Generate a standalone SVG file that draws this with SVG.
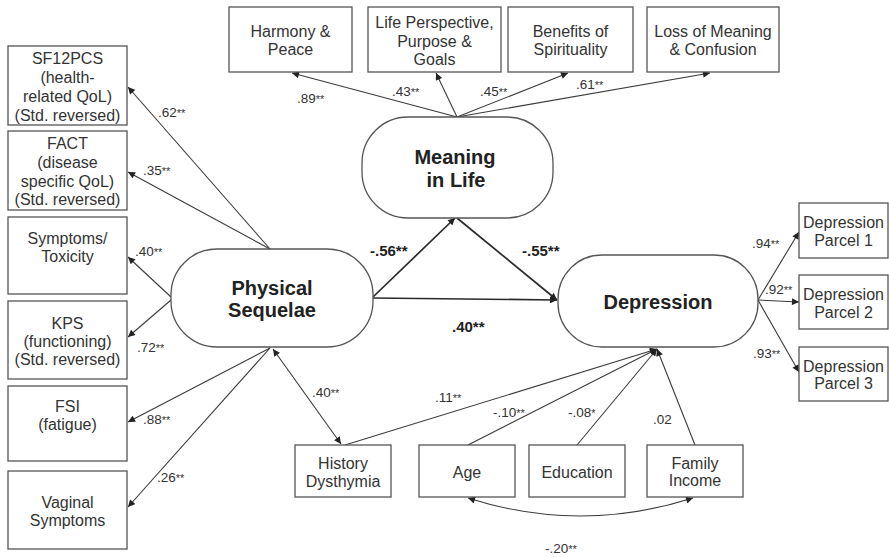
<svg xmlns="http://www.w3.org/2000/svg" width="889" height="557" viewBox="0 0 889 557">
<style>
  .box{fill:#fff;stroke:#555;stroke-width:1.3}
  .lat{fill:#fff;stroke:#555;stroke-width:1.3}
  .t{font-family:"Liberation Sans",Arial,sans-serif;font-size:16px;fill:#333;text-anchor:middle}
  .b{font-family:"Liberation Sans",Arial,sans-serif;font-size:20px;font-weight:bold;fill:#222;text-anchor:middle}
  .n{font-family:"Liberation Sans",Arial,sans-serif;font-size:13.5px;fill:#333}
  .nb{font-family:"Liberation Sans",Arial,sans-serif;font-size:15px;font-weight:bold;fill:#222}
  .s{font-size:11px}
  .c{fill:none;stroke:#3a3a3a;stroke-width:1.1}
  .cb{fill:none;stroke:#2a2a2a;stroke-width:1.7}
</style>
<defs>
  <marker id="ah" viewBox="0 0 10 10" refX="10" refY="5" markerWidth="8" markerHeight="7" markerUnits="userSpaceOnUse" orient="auto-start-reverse">
    <path d="M0,0 L10,5 L0,10 z" fill="#222"/>
  </marker>
</defs>

<g id="connectors">
  <!-- Meaning in Life to indicators -->
  <line class="c" x1="457" y1="117" x2="292" y2="73" marker-end="url(#ah)"/>
  <line class="c" x1="457" y1="117" x2="436" y2="73" marker-end="url(#ah)"/>
  <line class="c" x1="457" y1="117" x2="568" y2="73" marker-end="url(#ah)"/>
  <line class="c" x1="457" y1="117" x2="710" y2="73" marker-end="url(#ah)"/>
  <!-- Physical Sequelae to indicators -->
  <line class="c" x1="270" y1="249" x2="128" y2="87" marker-end="url(#ah)"/>
  <line class="c" x1="270" y1="249" x2="128" y2="172" marker-end="url(#ah)"/>
  <line class="c" x1="171" y1="297" x2="128" y2="257" marker-end="url(#ah)"/>
  <line class="c" x1="171" y1="300" x2="128" y2="337" marker-end="url(#ah)"/>
  <line class="c" x1="270" y1="348" x2="128" y2="422" marker-end="url(#ah)"/>
  <line class="c" x1="270" y1="348" x2="128" y2="507" marker-end="url(#ah)"/>
  <!-- Physical <-> History Dysthymia -->
  <line class="c" x1="273" y1="349" x2="341" y2="444" marker-start="url(#ah)" marker-end="url(#ah)"/>
  <!-- structural paths -->
  <line class="cb" x1="373" y1="297" x2="455" y2="218" marker-end="url(#ah)"/>
  <line class="cb" x1="457" y1="218" x2="557" y2="300" marker-end="url(#ah)"/>
  <line class="cb" x1="373" y1="298" x2="557" y2="300" marker-end="url(#ah)"/>
  <!-- Depression to parcels -->
  <line class="c" x1="758" y1="300" x2="799" y2="232" marker-end="url(#ah)"/>
  <line class="c" x1="758" y1="300" x2="799" y2="302" marker-end="url(#ah)"/>
  <line class="c" x1="758" y1="300" x2="799" y2="372" marker-end="url(#ah)"/>
  <!-- covariates to Depression -->
  <line class="c" x1="345" y1="445" x2="657" y2="349" marker-end="url(#ah)"/>
  <line class="c" x1="468" y1="445" x2="657" y2="349" marker-end="url(#ah)"/>
  <line class="c" x1="577" y1="445" x2="657" y2="349" marker-end="url(#ah)"/>
  <line class="c" x1="695" y1="445" x2="657" y2="349" marker-end="url(#ah)"/>
  <!-- Age <-> Family Income -->
  <path class="c" d="M468,498 Q580,534 693,498" marker-start="url(#ah)" marker-end="url(#ah)"/>
</g>

<g id="labels">
  <text class="n" x="297" y="103">.89<tspan class="s">**</tspan></text>
  <text class="n" x="392" y="96">.43<tspan class="s">**</tspan></text>
  <text class="n" x="480" y="96">.45<tspan class="s">**</tspan></text>
  <text class="n" x="576" y="89">.61<tspan class="s">**</tspan></text>
  <text class="n" x="158" y="117">.62<tspan class="s">**</tspan></text>
  <text class="n" x="143" y="175">.35<tspan class="s">**</tspan></text>
  <text class="n" x="135" y="256">.40<tspan class="s">**</tspan></text>
  <text class="n" x="137" y="352">.72<tspan class="s">**</tspan></text>
  <text class="n" x="143" y="424">.88<tspan class="s">**</tspan></text>
  <text class="n" x="157" y="482">.26<tspan class="s">**</tspan></text>
  <text class="n" x="312" y="397">.40<tspan class="s">**</tspan></text>
  <text class="nb" x="370" y="256">-.56**</text>
  <text class="nb" x="522" y="256">-.55**</text>
  <text class="nb" x="452" y="332">.40**</text>
  <text class="n" x="752" y="248">.94<tspan class="s">**</tspan></text>
  <text class="n" x="765" y="294">.92<tspan class="s">**</tspan></text>
  <text class="n" x="753" y="358">.93<tspan class="s">**</tspan></text>
  <text class="n" x="435" y="402">.11<tspan class="s">**</tspan></text>
  <text class="n" x="493" y="417">-.10<tspan class="s">**</tspan></text>
  <text class="n" x="568" y="417">-.08<tspan class="s">*</tspan></text>
  <text class="n" x="653" y="424">.02</text>
  <text class="n" x="545" y="553">-.20<tspan class="s">**</tspan></text>
</g>

<g id="harmony"><rect class="box" x="229" y="7" width="123" height="65"/>
  <text class="t" x="290.5" y="37">Harmony &amp;</text><text class="t" x="290.5" y="55">Peace</text></g>
<g id="life-perspective"><rect class="box" x="368" y="7" width="133" height="65"/>
  <text class="t" x="434.5" y="28">Life Perspective,</text><text class="t" x="434.5" y="47">Purpose &amp;</text><text class="t" x="434.5" y="65">Goals</text></g>
<g id="benefits"><rect class="box" x="508" y="7" width="125" height="65"/>
  <text class="t" x="570.5" y="37">Benefits of</text><text class="t" x="570.5" y="55">Spirituality</text></g>
<g id="loss"><rect class="box" x="647" y="7" width="132" height="65"/>
  <text class="t" x="713" y="37">Loss of Meaning</text><text class="t" x="713" y="55">&amp; Confusion</text></g>

<g id="sf12pcs"><rect class="box" x="8" y="46" width="119" height="79"/>
  <text class="t" x="67.5" y="64">SF12PCS</text><text class="t" x="67.5" y="83">(health-</text><text class="t" x="67.5" y="102">related QoL)</text><text class="t" x="67.5" y="121">(Std. reversed)</text></g>
<g id="fact"><rect class="box" x="8" y="131" width="119" height="79"/>
  <text class="t" x="67.5" y="149">FACT</text><text class="t" x="67.5" y="168">(disease</text><text class="t" x="67.5" y="187">specific QoL)</text><text class="t" x="67.5" y="205">(Std. reversed)</text></g>
<g id="symptoms"><rect class="box" x="8" y="217" width="119" height="77"/>
  <text class="t" x="67.5" y="244">Symptoms/</text><text class="t" x="67.5" y="262">Toxicity</text></g>
<g id="kps"><rect class="box" x="8" y="301" width="119" height="78"/>
  <text class="t" x="67.5" y="329">KPS</text><text class="t" x="67.5" y="347">(functioning)</text><text class="t" x="67.5" y="365">(Std. reversed)</text></g>
<g id="fsi"><rect class="box" x="8" y="386" width="119" height="75"/>
  <text class="t" x="67.5" y="412">FSI</text><text class="t" x="67.5" y="430">(fatigue)</text></g>
<g id="vaginal"><rect class="box" x="8" y="471" width="119" height="78"/>
  <text class="t" x="67.5" y="508">Vaginal</text><text class="t" x="67.5" y="526">Symptoms</text></g>

<g id="physical-sequelae"><rect class="lat" x="171" y="249" width="202" height="98" rx="46" ry="46"/>
  <text class="b" x="272" y="295">Physical</text><text class="b" x="272" y="317">Sequelae</text></g>
<g id="meaning-in-life"><rect class="lat" x="362" y="117" width="191" height="101" rx="46" ry="46"/>
  <text class="b" x="455" y="164">Meaning</text><text class="b" x="456" y="187">in Life</text></g>
<g id="depression"><rect class="lat" x="558" y="255" width="200" height="92" rx="44" ry="44"/>
  <text class="b" x="658" y="309">Depression</text></g>

<g id="parcel1"><rect class="box" x="799" y="203" width="89" height="55"/>
  <text class="t" x="843.5" y="228">Depression</text><text class="t" x="843.5" y="246">Parcel 1</text></g>
<g id="parcel2"><rect class="box" x="799" y="275" width="89" height="54"/>
  <text class="t" x="843.5" y="300">Depression</text><text class="t" x="843.5" y="318">Parcel 2</text></g>
<g id="parcel3"><rect class="box" x="799" y="347" width="89" height="54"/>
  <text class="t" x="843.5" y="372">Depression</text><text class="t" x="843.5" y="389">Parcel 3</text></g>

<g id="history-dysthymia"><rect class="box" x="295" y="445" width="96" height="52"/>
  <text class="t" x="343" y="469">History</text><text class="t" x="343" y="487">Dysthymia</text></g>
<g id="age"><rect class="box" x="419" y="445" width="96" height="52"/>
  <text class="t" x="467" y="478">Age</text></g>
<g id="education"><rect class="box" x="529" y="445" width="96" height="52"/>
  <text class="t" x="577" y="478">Education</text></g>
<g id="family-income"><rect class="box" x="647" y="445" width="96" height="52"/>
  <text class="t" x="695" y="469">Family</text><text class="t" x="695" y="486">Income</text></g>
</svg>
